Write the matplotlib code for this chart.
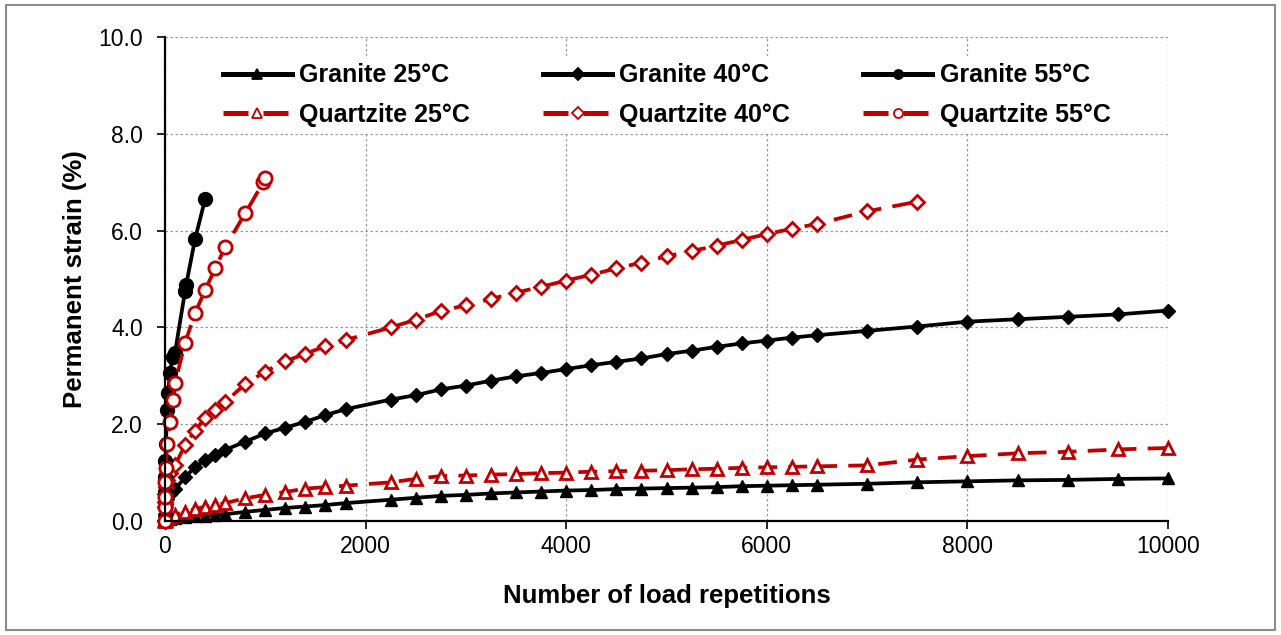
'''
Permanent strain vs number of load repetitions, granite and quartzite
'''
import matplotlib
matplotlib.use('Agg')
import matplotlib.pyplot as plt
from matplotlib.patches import Rectangle

plt.rcParams['font.family'] = ['Liberation Sans', 'DejaVu Sans']

RED = '#C00000'

# -------------------------------------------------------
# cycles at which strain was recorded
x_long = [0, 1, 2, 5, 10, 20, 50, 100,
          200, 300, 400, 500, 600,
          800, 1000, 1200, 1400, 1600, 1800,
          2250, 2500, 2750, 3000, 3250, 3500, 3750, 4000, 4250,
          4500, 4750, 5000, 5250, 5500, 5750, 6000, 6250, 6500,
          7000, 7500, 8000, 8500, 9000, 9500, 10000]

granite_25 = [0, 0.005, 0.01, 0.02, 0.03, 0.04, 0.05, 0.07,
              0.09, 0.10, 0.11, 0.12, 0.14,
              0.19, 0.23, 0.27, 0.30, 0.33, 0.37,
              0.44, 0.48, 0.52, 0.54, 0.57, 0.59, 0.61, 0.63, 0.64,
              0.66, 0.67, 0.68, 0.69, 0.70, 0.72, 0.73, 0.74, 0.75,
              0.77, 0.80, 0.82, 0.84, 0.85, 0.87, 0.88]

quartzite_25 = [0, 0.02, 0.03, 0.05, 0.07, 0.09, 0.11, 0.13,
                0.19, 0.25, 0.29, 0.33, 0.37,
                0.47, 0.54, 0.60, 0.67, 0.70, 0.73,
                0.80, 0.87, 0.93, 0.94, 0.96, 0.97, 0.99, 1.00, 1.02,
                1.03, 1.04, 1.05, 1.07, 1.08, 1.10, 1.11, 1.12, 1.13,
                1.15, 1.27, 1.34, 1.40, 1.43, 1.48, 1.51]

granite_40 = [0, 0.10, 0.15, 0.25, 0.35, 0.45, 0.55, 0.66,
              0.90, 1.12, 1.26, 1.36, 1.47,
              1.64, 1.81, 1.93, 2.05, 2.19, 2.31,
              2.51, 2.60, 2.72, 2.80, 2.90, 2.99, 3.06, 3.14, 3.22,
              3.29, 3.36, 3.45, 3.52, 3.60, 3.67, 3.73, 3.79, 3.84,
              3.93, 4.02, 4.12, 4.17, 4.22, 4.27, 4.35]

x_q40 = x_long[:39]
quartzite_40 = [0, 0.30, 0.40, 0.55, 0.70, 0.85, 1.00, 1.15,
                1.57, 1.87, 2.13, 2.30, 2.46,
                2.83, 3.09, 3.30, 3.46, 3.61, 3.74,
                4.00, 4.16, 4.34, 4.46, 4.59, 4.72, 4.84, 4.97, 5.09,
                5.22, 5.34, 5.47, 5.58, 5.69, 5.81, 5.93, 6.04, 6.14,
                6.40, 6.60]

x_g55 = [0, 1, 2, 5, 10, 20, 30, 50, 75, 100, 200, 210, 300, 400]
granite_55 = [0, 0.6, 0.9, 1.25, 1.6, 2.3, 2.65, 3.05, 3.38, 3.48,
              4.75, 4.87, 5.83, 6.65]

x_q55 = [0, 1, 2, 5, 10, 20, 50, 75, 100, 200, 300, 400, 500, 600, 800, 980, 1000]
quartzite_55 = [0, 0.3, 0.5, 0.8, 1.1, 1.6, 2.05, 2.5, 2.85,
                3.68, 4.30, 4.77, 5.22, 5.66, 6.36, 7.00, 7.08]

x_ticks = [0, 2000, 4000, 6000, 8000, 10000]
y_ticks = [0, 2, 4, 6, 8, 10]
# -------------------------------------------------------
def _granite(ax, x, y, marker, size, label):
    ax.plot(x, y, color='black', lw=2.7, marker=marker, ms=size,
            mfc='black', mec='black', label=label, clip_on=False, zorder=3)
# -------------------------------------------------------
def _quartzite(ax, x, y, marker, size, label):
    ax.plot(x, y, color=RED, lw=2.7, dashes=(5, 3), marker=marker, ms=size,
            mfc='white', mec=RED, mew=2.0, label=label, clip_on=False, zorder=3)
# -------------------------------------------------------
def main():
    fig = plt.figure(figsize=(12.81, 6.35), dpi=100)
    ax  = fig.add_axes([0.1288, 0.1795, 0.783, 0.762])

    _granite(ax, x_long, granite_25, '^', 9.0, 'Granite 25°C')
    _quartzite(ax, x_long, quartzite_25, '^', 9.0, 'Quartzite 25°C')
    _granite(ax, x_long, granite_40, 'D', 7.5, 'Granite 40°C')
    _quartzite(ax, x_q40, quartzite_40, 'D', 7.0, 'Quartzite 40°C')
    _granite(ax, x_g55, granite_55, 'o', 10.0, 'Granite 55°C')
    _quartzite(ax, x_q55, quartzite_55, 'o', 9.5, 'Quartzite 55°C')

    ax.set_xlim(0, 10000)
    ax.set_ylim(0, 10)
    ax.set_xticks(x_ticks)
    ax.set_yticks(y_ticks)
    ax.set_yticklabels([f'{v:.1f}' for v in y_ticks])
    ax.tick_params(direction='out', length=6, width=1.2, labelsize=16.5, colors='black')
    ax.tick_params(axis='y', pad=10)
    ax.tick_params(axis='x', pad=4)

    for side in ['top', 'right']:
        ax.spines[side].set_visible(False)
    for side in ['left', 'bottom']:
        ax.spines[side].set_linewidth(1.6)
        ax.spines[side].set_zorder(4)

    ax.grid(True, color='#999999', ls=(0, (2, 2)), lw=0.9)
    ax.set_axisbelow(True)

    ax.set_xlabel('Number of load repetitions', fontsize=18.5, fontweight='bold', labelpad=19)
    ax.set_ylabel('Permanent strain (%)', fontsize=18.5, fontweight='bold', labelpad=8)

    leg = ax.legend(ncol=3, loc='upper left', bbox_to_anchor=(0.038, 0.987),
                    prop={'size': 18, 'weight': 'bold'}, handlelength=2.75,
                    handletextpad=0.3, columnspacing=2.92, labelspacing=0.62,
                    frameon=True, fancybox=False, borderpad=0.3)
    leg.get_frame().set_facecolor('white')
    leg.get_frame().set_edgecolor('none')
    leg.get_frame().set_alpha(1.0)
    leg.set_zorder(5)
    for h in leg.legend_handles:
        h.set_linewidth(3.6)
        h.set_markersize(6.5)
        h.set_markeredgewidth(1.3)

    fig.patches.append(Rectangle((0.005, 0.008), 0.99, 0.984, transform=fig.transFigure,
                                 fill=False, edgecolor='#8c8c8c', lw=1.5))

    fig.savefig('out.png', dpi=100)
    plt.close(fig)
# -------------------------------------------------------
if __name__ == '__main__':
    main()
